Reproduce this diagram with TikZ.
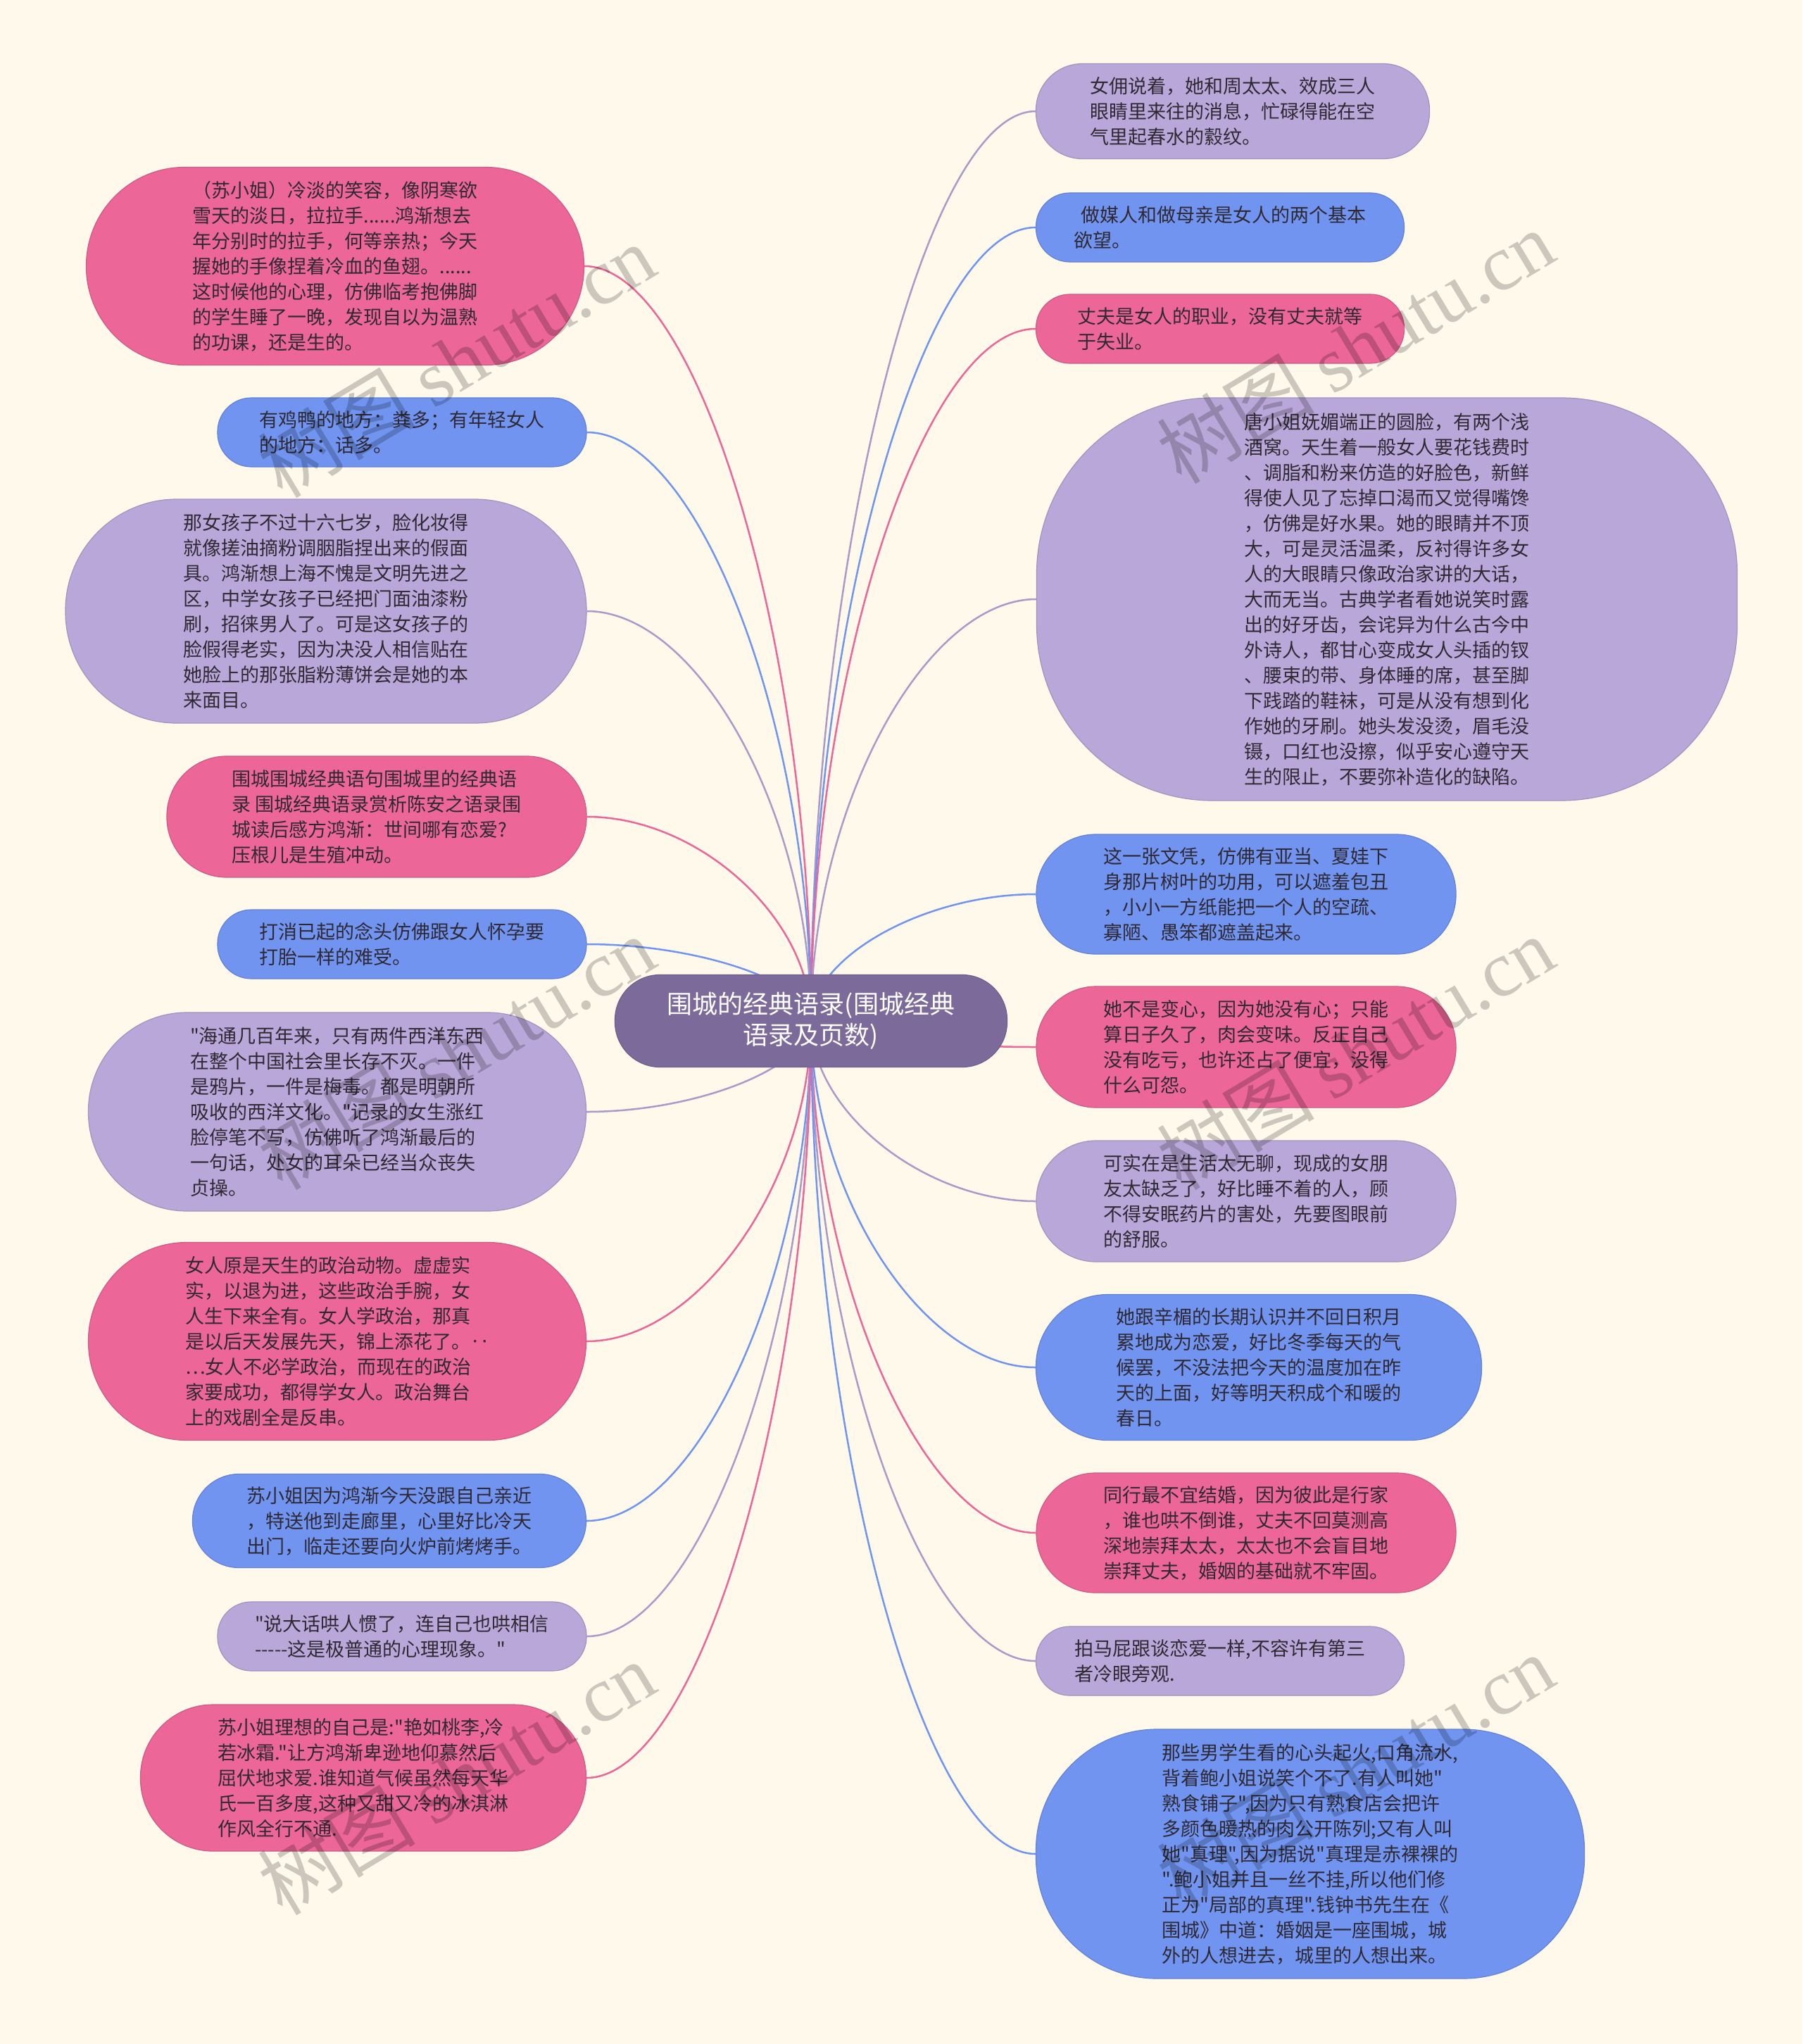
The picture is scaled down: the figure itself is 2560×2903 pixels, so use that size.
\documentclass[tikz,border=0pt]{standalone}
\usepackage{fontspec}
\setmainfont{Noto Sans CJK SC}
\newfontfamily\cjk{Noto Sans CJK SC}
\newfontfamily\wmserif{Liberation Serif}
\usetikzlibrary{calc}
\definecolor{bgc}{HTML}{FEF9EB}
\definecolor{pinkc}{HTML}{EC6697}
\definecolor{bluec}{HTML}{7094F0}
\definecolor{lavc}{HTML}{B8A7D8}
\definecolor{cenc}{HTML}{7B6A9A}
\definecolor{txtc}{HTML}{2E2933}
\pgfdeclarelayer{bglayer}
\pgfdeclarelayer{linelayer}
\pgfsetlayers{bglayer,linelayer,main}
\newcommand\mmlink[3]{%
  \draw[conn,#3] (c.center) .. controls ($(c.center)!0.5!(c.center |- #1.#2)$) and ($(#1.#2)!0.5!(c.center |- #1.#2)$) .. (#1.#2);%
}
\begin{document}
\begin{tikzpicture}[x=1pt,y=-1pt,
  leaf/.style={rectangle, align=left, inner sep=0pt, text=txtc, font=\cjk\fontsize{27}{36}\selectfont, line width=1.2pt},
  pinkbox/.style={leaf, fill=pinkc, draw=pinkc!88!black},
  bluebox/.style={leaf, fill=bluec, draw=bluec!88!black},
  lavbox/.style={leaf, fill=lavc, draw=lavc!88!black},
  sz/.style n args={3}{minimum width=#1pt, minimum height=#2pt, rounded corners=#3pt},
  conn/.style={line width=2.5pt},
  pinkline/.style={draw=pinkc},
  blueline/.style={draw=bluec},
  lavline/.style={draw=lavc!92!black},
  wm/.style={text=black, opacity=0.2, rotate=31, font=\cjk\fontsize{112}{112}\selectfont, inner sep=0pt}
]
\begin{pgfonlayer}{bglayer}
\fill[bgc] (0,0) rectangle (2560,2903);
\end{pgfonlayer}
\useasboundingbox (0,0) rectangle (2560,2903);

% central node
\node[rectangle, fill=cenc, draw=cenc!90!black, line width=1.2pt, text=white, align=center,
  font=\cjk\fontsize{36}{44}\selectfont, inner sep=0pt, sz={557}{131}{64}] (c) at (1152,1450)
  {围城的经典语录(围城经典\\语录及页数)};

% right side
\node[lavbox, sz={559}{135}{66}] (r1) at (1751,158)
 {女佣说着，她和周太太、效成三人\\眼睛里来往的消息，忙碌得能在空\\气里起春水的縠纹。};
\node[bluebox, sz={523}{98}{48}] (r2) at (1733,323)
 {\hspace{0.4em}做媒人和做母亲是女人的两个基本\\欲望。};
\node[pinkbox, sz={523}{98}{48}] (r3) at (1733,467)
 {丈夫是女人的职业，没有丈夫就等\\于失业。};
\node[lavbox, sz={995}{572}{250}] (r4) at (1970,851)
 {唐小姐妩媚端正的圆脸，有两个浅\\酒窝。天生着一般女人要花钱费时\\、调脂和粉来仿造的好脸色，新鲜\\得使人见了忘掉口渴而又觉得嘴馋\\，仿佛是好水果。她的眼睛并不顶\\大，可是灵活温柔，反衬得许多女\\人的大眼睛只像政治家讲的大话，\\大而无当。古典学者看她说笑时露\\出的好牙齿，会诧异为什么古今中\\外诗人，都甘心变成女人头插的钗\\、腰束的带、身体睡的席，甚至脚\\下践踏的鞋袜，可是从没有想到化\\作她的牙刷。她头发没烫，眉毛没\\镊，口红也没擦，似乎安心遵守天\\生的限止，不要弥补造化的缺陷。};
\node[bluebox, sz={596}{170}{84}] (r5) at (1770,1270)
 {这一张文凭，仿佛有亚当、夏娃下\\身那片树叶的功用，可以遮羞包丑\\，小小一方纸能把一个人的空疏、\\寡陋、愚笨都遮盖起来。};
\node[pinkbox, sz={596}{172}{85}] (r6) at (1770,1487)
 {她不是变心，因为她没有心；只能\\算日子久了，肉会变味。反正自己\\没有吃亏，也许还占了便宜，没得\\什么可怨。};
\node[lavbox, sz={596}{172}{85}] (r7) at (1770,1706)
 {可实在是生活太无聊，现成的女朋\\友太缺乏了，好比睡不着的人，顾\\不得安眠药片的害处，先要图眼前\\的舒服。};
\node[bluebox, sz={633}{207}{102}] (r8) at (1788,1942)
 {她跟辛楣的长期认识并不回日积月\\累地成为恋爱，好比冬季每天的气\\候罢，不没法把今天的温度加在昨\\天的上面，好等明天积成个和暖的\\春日。};
\node[pinkbox, sz={596}{170}{84}] (r9) at (1770,2177)
 {同行最不宜结婚，因为彼此是行家\\，谁也哄不倒谁，丈夫不回莫测高\\深地崇拜太太，太太也不会盲目地\\崇拜丈夫，婚姻的基础就不牢固。};
\node[lavbox, sz={523}{98}{48}] (r10) at (1733,2359)
 {拍马屁跟谈恋爱一样,不容许有第三\\者冷眼旁观.};
\node[bluebox, sz={779}{354}{172}] (r11) at (1861,2633)
 {那些男学生看的心头起火,口角流水,\\背着鲍小姐说笑个不了.有人叫她"\\熟食铺子",因为只有熟食店会把许\\多颜色暖热的肉公开陈列;又有人叫\\她"真理",因为据说"真理是赤裸裸的\\".鲍小姐并且一丝不挂,所以他们修\\正为"局部的真理".钱钟书先生在《\\围城》中道：婚姻是一座围城，城\\外的人想进去，城里的人想出来。};

% left side
\node[pinkbox, sz={707}{281}{140}] (l1) at (476,378)
 {（苏小姐）冷淡的笑容，像阴寒欲\\雪天的淡日，拉拉手......鸿渐想去\\年分别时的拉手，何等亲热；今天\\握她的手像捏着冷血的鱼翅。......\\这时候他的心理，仿佛临考抱佛脚\\的学生睡了一晚，发现自以为温熟\\的功课，还是生的。};
\node[bluebox, sz={524}{98}{48}] (l2) at (571,614)
 {有鸡鸭的地方：粪多；有年轻女人\\的地方：话多。};
\node[lavbox, sz={740}{318}{158}] (l3) at (463,868)
 {那女孩子不过十六七岁，脸化妆得\\就像搓油摘粉调胭脂捏出来的假面\\具。鸿渐想上海不愧是文明先进之\\区，中学女孩子已经把门面油漆粉\\刷，招徕男人了。可是这女孩子的\\脸假得老实，因为决没人相信贴在\\她脸上的那张脂粉薄饼会是她的本\\来面目。};
\node[pinkbox, sz={596}{172}{85}] (l4) at (535,1160)
 {围城围城经典语句围城里的经典语\\录 围城经典语录赏析陈安之语录围\\城读后感方鸿渐：世间哪有恋爱?\\压根儿是生殖冲动。};
\node[bluebox, sz={524}{98}{48}] (l5) at (571,1341)
 {打消已起的念头仿佛跟女人怀孕要\\打胎一样的难受。};
\node[lavbox, sz={707}{282}{140}] (l6) at (479,1579)
 {"海通几百年来，只有两件西洋东西\\在整个中国社会里长存不灭。一件\\是鸦片，一件是梅毒。都是明朝所\\吸收的西洋文化。"记录的女生涨红\\脸停笔不写，仿佛听了鸿渐最后的\\一句话，处女的耳朵已经当众丧失\\贞操。};
\node[pinkbox, sz={707}{281}{140}] (l7) at (479,1905)
 {女人原是天生的政治动物。虚虚实\\实，以退为进，这些政治手腕，女\\人生下来全有。女人学政治，那真\\是以后天发展先天，锦上添花了。‥\\…女人不必学政治，而现在的政治\\家要成功，都得学女人。政治舞台\\上的戏剧全是反串。};
\node[bluebox, sz={559}{133}{66}] (l8) at (553,2160)
 {苏小姐因为鸿渐今天没跟自己亲近\\，特送他到走廊里，心里好比冷天\\出门，临走还要向火炉前烤烤手。};
\node[lavbox, sz={524}{98}{48}] (l9) at (571,2324)
 {"说大话哄人惯了，连自己也哄相信\\-{}-{}-{}-{}-这是极普通的心理现象。"};
\node[pinkbox, sz={633}{208}{103}] (l10) at (516,2525)
 {苏小姐理想的自己是:"艳如桃李,冷\\若冰霜."让方鸿渐卑逊地仰慕然后\\屈伏地求爱.谁知道气候虽然每天华\\氏一百多度,这种又甜又冷的冰淇淋\\作风全行不通.};

% connectors
\begin{pgfonlayer}{linelayer}
\mmlink{r1}{west}{lavline}
\mmlink{r2}{west}{blueline}
\mmlink{r3}{west}{pinkline}
\mmlink{r4}{west}{lavline}
\mmlink{r5}{west}{blueline}
\mmlink{r6}{west}{pinkline}
\mmlink{r7}{west}{lavline}
\mmlink{r8}{west}{blueline}
\mmlink{r9}{west}{pinkline}
\mmlink{r10}{west}{lavline}
\mmlink{r11}{west}{blueline}
\mmlink{l1}{east}{pinkline}
\mmlink{l2}{east}{blueline}
\mmlink{l3}{east}{lavline}
\mmlink{l4}{east}{pinkline}
\mmlink{l5}{east}{blueline}
\mmlink{l6}{east}{lavline}
\mmlink{l7}{east}{pinkline}
\mmlink{l8}{east}{blueline}
\mmlink{l9}{east}{lavline}
\mmlink{l10}{east}{pinkline}
\end{pgfonlayer}

% watermarks
\node[wm] (w1) at (648,512) {树图 {\wmserif shutu.cn}};
\node[wm] (w2) at (648,1495) {树图 {\wmserif shutu.cn}};
\node[wm] (w3) at (648,2525) {树图 {\wmserif shutu.cn}};
\node[wm] (w4) at (1925,492) {树图 {\wmserif shutu.cn}};
\node[wm] (w5) at (1925,1495) {树图 {\wmserif shutu.cn}};
\node[wm] (w6) at (1925,2515) {树图 {\wmserif shutu.cn}};
\end{tikzpicture}
\end{document}
